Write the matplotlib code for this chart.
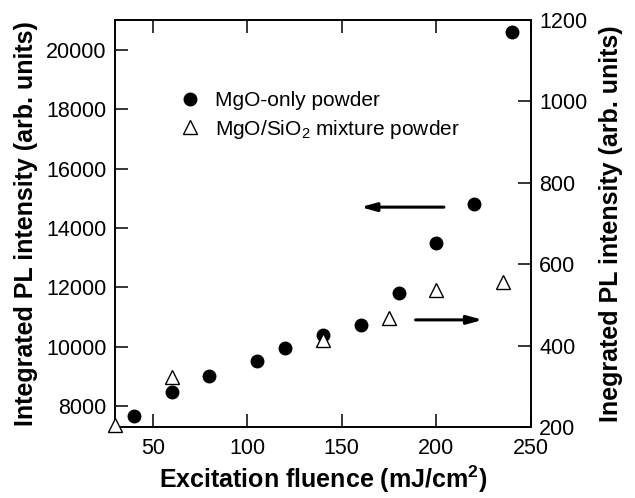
import matplotlib
matplotlib.use("Agg")
import matplotlib.pyplot as plt

plt.rcParams["font.family"] = ["Liberation Sans", "DejaVu Sans"]
plt.rcParams["mathtext.fontset"] = "custom"
plt.rcParams["mathtext.rm"] = "Liberation Sans"
plt.rcParams["mathtext.bf"] = "Liberation Sans:bold"
plt.rcParams["mathtext.default"] = "regular"

# MgO-only powder (left axis)
x_mgo = [40, 60, 80, 105, 120, 140, 160, 180, 200, 220, 240]
y_mgo = [7670, 8480, 9020, 9520, 9945, 10390, 10730, 11800, 13480, 14810, 20600]

# MgO/SiO2 mixture powder (right axis)
x_mix = [30, 60, 140, 175, 200, 235]
y_mix = [205, 324, 414, 467, 537, 557]

x_ticks = [50, 100, 150, 200, 250]
left_ticks = [8000, 10000, 12000, 14000, 16000, 18000, 20000]
right_ticks = [200, 400, 600, 800, 1000, 1200]

fig = plt.figure(figsize=(6.35, 4.98), dpi=100)
ax = fig.add_axes([0.181, 0.1426, 0.655, 0.8174])
ax2 = ax.twinx()

tick_kw = dict(direction="in", length=9.5, width=1.1, labelsize=15.5)

ax.plot(x_mgo, y_mgo, "o", color="black", markersize=9, clip_on=False, zorder=3)
ax2.plot(x_mix, y_mix, "^", markerfacecolor="white", markeredgecolor="black",
         markeredgewidth=1.0, markersize=10, clip_on=False, zorder=4)

ax.set_xlim(30, 250)
ax.set_ylim(7290, 21010)
ax2.set_ylim(200, 1200)
ax.set_xticks(x_ticks)
ax.set_yticks(left_ticks)
ax2.set_yticks(right_ticks)

ax.tick_params(axis="x", top=True, **tick_kw)
ax.tick_params(axis="y", right=False, **tick_kw)
ax2.tick_params(axis="y", **tick_kw)
ax.tick_params(axis="x", pad=8)
ax.tick_params(axis="y", pad=6)
ax2.tick_params(axis="y", pad=6)

for a in (ax, ax2):
    for s in a.spines.values():
        s.set_linewidth(1.2)

ax.set_xlabel("Excitation fluence (mJ/cm$^{2}$)", fontsize=18, fontweight="bold", labelpad=3)
ax.set_ylabel("Integrated PL intensity (arb. units)", fontsize=18, fontweight="bold", labelpad=6)
ax2.set_ylabel("Inegrated PL intensity (arb. units)", fontsize=18, fontweight="bold", labelpad=8)

# legend drawn by hand
h1, = ax.plot([], [], "o", color="black", markersize=9)
h2, = ax.plot([], [], "^", markerfacecolor="white", markeredgecolor="black",
              markeredgewidth=1.0, markersize=10)
ax.legend([h1, h2], ["MgO-only powder", "MgO/SiO$_2$ mixture powder"],
          loc="upper left", bbox_to_anchor=(0.105, 0.86), frameon=False,
          fontsize=15, handletextpad=0.4, labelspacing=0.35, borderpad=0.2,
          handlelength=1.6)

arrow_kw = dict(arrowstyle="-|>,head_length=0.9,head_width=0.25", color="black", lw=2.2,
                shrinkA=0, shrinkB=0)
ax.annotate("", xy=(160, 14700), xytext=(204, 14700), arrowprops=arrow_kw)
ax.annotate("", xy=(224.5, 10900), xytext=(189, 10900), arrowprops=arrow_kw)

fig.savefig("out.png", dpi=100)
